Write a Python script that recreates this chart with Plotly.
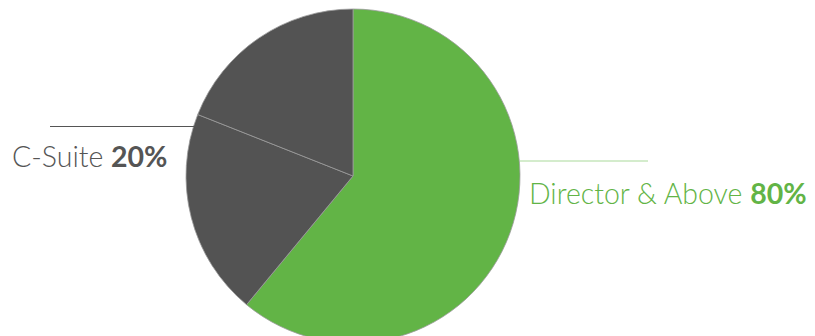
import plotly.graph_objects as go

# Data
slice_names = ["Director & Above", "C-Suite (part 1)", "C-Suite (part 2)"]
slice_values = [61, 20, 19]
slice_colors = ["#62b446", "#535353", "#535353"]

label_csuite = "C-Suite"
pct_csuite = "20%"
label_director = "Director & Above"
pct_director = "80%"

W, H = 815, 344
FONT = "Lato, 'Open Sans', sans-serif"

fig = go.Figure(go.Pie(
    labels=slice_names,
    values=slice_values,
    sort=False,
    direction="clockwise",
    rotation=0,
    textinfo="none",
    hoverinfo="label+percent",
    marker=dict(colors=slice_colors, line=dict(color="#9c9c9c", width=0.8)),
    domain=dict(x=[186 / W, 520 / W], y=[1 - 343 / H, 1 - 9 / H]),
    showlegend=False,
))

def px(x):
    return x / W

def py(y):
    return 1 - y / H

fig.update_layout(
    width=W, height=H,
    margin=dict(l=0, r=0, t=0, b=0),
    paper_bgcolor="white", plot_bgcolor="white",
    shapes=[
        dict(type="line", xref="paper", yref="paper",
             x0=px(50), x1=px(197), y0=py(126.5), y1=py(126.5),
             line=dict(color="#555555", width=1)),
        dict(type="line", xref="paper", yref="paper",
             x0=px(520), x1=px(648), y0=py(161), y1=py(161),
             line=dict(color="#a9d99a", width=1)),
    ],
    annotations=[
        dict(xref="paper", yref="paper", x=px(10), y=py(156),
             xanchor="left", yanchor="middle", showarrow=False,
             text=f"{label_csuite} <b>{pct_csuite}</b>",
             font=dict(family=FONT, size=28.5, color="#555555", weight=300)),
        dict(xref="paper", yref="paper", x=px(527), y=py(193),
             xanchor="left", yanchor="middle", showarrow=False,
             text=f"{label_director} <b>{pct_director}</b>",
             font=dict(family=FONT, size=28.5, color="#62b446", weight=300)),
    ],
)

fig.write_html(
    "out.html",
    post_script="document.documentElement.style.overflow='hidden';document.body.style.overflow='hidden';",
)
